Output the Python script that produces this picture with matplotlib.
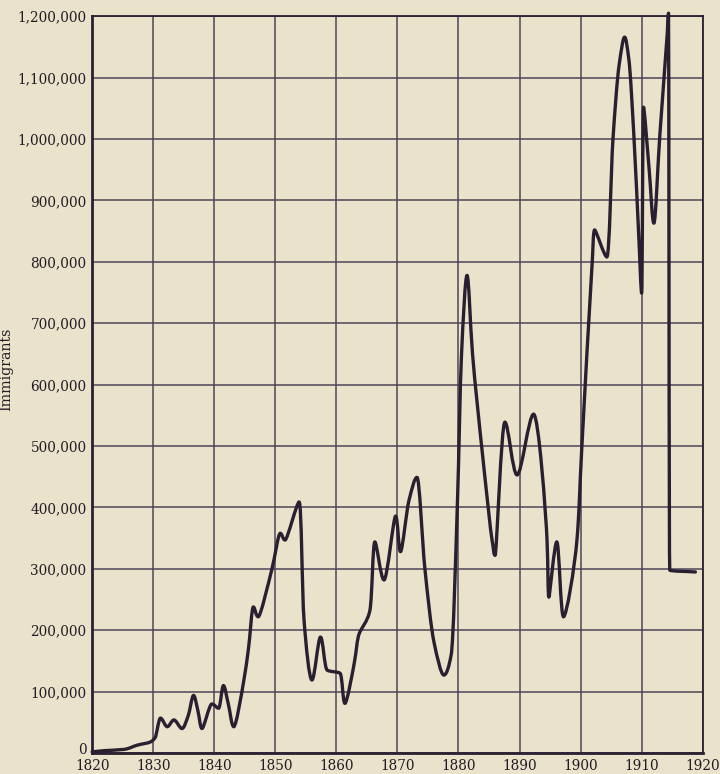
import numpy as np
import matplotlib
matplotlib.use("Agg")
import matplotlib.pyplot as plt
from matplotlib.path import Path
from matplotlib.patches import PathPatch
from matplotlib.ticker import FuncFormatter
from matplotlib.transforms import ScaledTranslation

PAPER, INK, GRID, TXT = "#ebe2cc", "#282030", "#4e4556", "#231c24"

# points (year, immigrants)
years = [1820.0, 1822.0, 1825.2, 1827.4, 1829.5, 1830.3, 1831.2, 1832.3, 1833.4, 1834.7,
         1835.7, 1836.6, 1837.3, 1838.0, 1839.6, 1840.7, 1841.5, 1842.3, 1843.2, 1844.8,
         1845.6, 1846.4, 1847.2, 1849.4, 1850.8, 1851.6, 1853.9, 1854.7, 1856.0, 1857.4,
         1858.5, 1860.6, 1861.4, 1863.0, 1863.6, 1865.5, 1866.3, 1867.8, 1869.7, 1870.5,
         1871.9, 1873.2, 1874.5, 1876.0, 1877.6, 1878.8, 1879.8, 1880.5, 1881.4, 1882.3,
         1884.0, 1885.5, 1886.0, 1887.6, 1889.6, 1892.3, 1894.5, 1894.8, 1896.1, 1897.2,
         1899.4, 1900.2, 1901.8, 1902.3, 1904.3, 1905.3, 1906.3, 1907.2, 1907.9, 1908.7,
         1909.5, 1910.0, 1910.3, 1911.2, 1912.0, 1913.0, 1914.2, 1914.4, 1914.6, 1918.8]
immigrants = [2000, 4000, 6000, 13000, 18000, 25000, 57000, 43000, 54000, 40000,
              60000, 94000, 70000, 40000, 80000, 73000, 110000, 80000, 43000, 116000,
              170000, 238000, 222000, 298000, 358000, 347000, 409000, 217000, 119000, 189000,
              135000, 130000, 81000, 151000, 190000, 233000, 344000, 282000, 386000, 328000,
              412000, 449000, 300000, 180000, 127000, 160000, 400000, 650000, 778000, 650000,
              480000, 347000, 322000, 539000, 453000, 552000, 347000, 254000, 344000, 222000,
              347000, 498000, 782000, 852000, 808000, 1000000, 1120000, 1166000, 1130000, 1010000,
              847000, 749000, 1052000, 954000, 863000, 1010000, 1173000, 1205000, 298000, 295000]

x_ticks = list(range(1820, 1921, 10))
y_ticks = list(range(0, 1200001, 100000))


def slopes(v):
    # monotone-friendly tangents so peaks stay where they were read
    d = np.diff(v)
    m = np.zeros(len(v))
    m[0], m[-1] = d[0], d[-1]
    for i in range(1, len(v) - 1):
        a, b = d[i - 1], d[i]
        if a * b > 0:
            m[i] = 2 * a * b / (a + b)
    return m


def smooth_path(x, y):
    x, y = np.asarray(x, float), np.asarray(y, float)
    mx, my = slopes(x), slopes(y)
    verts, codes = [(x[0], y[0])], [Path.MOVETO]
    for i in range(len(x) - 1):
        verts += [(x[i] + mx[i] / 3, y[i] + my[i] / 3),
                  (x[i + 1] - mx[i + 1] / 3, y[i + 1] - my[i + 1] / 3),
                  (x[i + 1], y[i + 1])]
        codes += [Path.CURVE4] * 3
    return Path(verts, codes)


fig = plt.figure(figsize=(7.2, 7.74), dpi=100)
fig.patch.set_facecolor(PAPER)
ax = fig.add_axes([0.128, 0.027, 0.848, 0.952])
ax.set_facecolor(PAPER)
ax.set_xlim(1820, 1920)
ax.set_ylim(0, 1200000)

ax.set_xticks(x_ticks)
ax.set_yticks(y_ticks)
ax.yaxis.set_major_formatter(FuncFormatter(lambda v, _: f"{int(v):,}"))
ax.tick_params(length=0, labelsize=9.8, labelcolor=TXT)
ax.tick_params(axis="y", pad=4)
ax.tick_params(axis="x", pad=4.5)
for lab in ax.get_xticklabels() + ax.get_yticklabels():
    lab.set_family("DejaVu Serif")
# the "0" sits a little above the axis line, clear of "1820"
zero = ax.get_yticklabels()[0]
zero.set_transform(zero.get_transform() + ScaledTranslation(0, 3 / 72, fig.dpi_scale_trans))

ax.grid(True, color=GRID, lw=1.1)
ax.set_axisbelow(True)
for s in ax.spines.values():
    s.set_color(INK)
    s.set_linewidth(1.3)
ax.spines["left"].set_linewidth(2.0)
ax.spines["bottom"].set_linewidth(2.0)

ax.set_ylabel("Immigrants", family="DejaVu Serif", fontsize=10.2, color=TXT)
ax.yaxis.set_label_coords(-0.13, 0.521)

ax.add_patch(PathPatch(smooth_path(years, immigrants), fill=False, ec=INK, lw=2.4,
                       capstyle="round", joinstyle="round", clip_on=False, zorder=3))

fig.savefig("out.png", facecolor=PAPER)
